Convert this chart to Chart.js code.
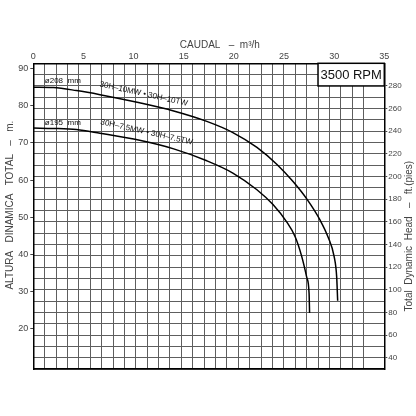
<!DOCTYPE html>
<html>
<head>
<meta charset="utf-8">
<script src="https://cdn.jsdelivr.net/npm/chart.js@4.4.1/dist/chart.umd.min.js"></script>
<style>
  html, body { margin: 0; padding: 0; background: #fff; }
  canvas { display: block; }
</style>
</head>
<body>
<canvas id="chart" width="416" height="416"></canvas>
<script>
const M3H_TO_GPM = 4.402868;
const M_TO_FT = 3.28084;
const FONT = '"Liberation Sans", Arial, sans-serif';

// tick labels
const flowTicks = [0, 5, 10, 15, 20, 25, 30, 35];
const headTicksM = [20, 30, 40, 50, 60, 70, 80, 90];
const headTicksFt = [40, 60, 80, 100, 120, 140, 160, 180, 200, 220, 240, 260, 280];

// impeller 208 mm (30H-10MW / 30H-10TW)
const flow208 = [0, 2, 4.3, 6.65, 10.6, 14.0, 17.3, 19.9, 22.3, 24.3, 25.9, 27.3, 28.6, 29.4, 30.0, 30.25, 30.35];
const head208 = [85.0, 84.9, 84.1, 83.0, 80.8, 78.6, 75.8, 72.8, 68.8, 64.2, 59.6, 54.8, 49.2, 44.6, 39.4, 34.0, 27.5];

// impeller 195 mm (30H-7.5MW / 30H-7.5TW)
const flow195 = [0, 2, 4.3, 6.65, 10.6, 14.0, 17.3, 19.9, 22.3, 23.9, 25.3, 26.1, 26.75, 27.25, 27.5, 27.55];
const head195 = [74.0, 73.9, 73.6, 72.6, 70.7, 68.4, 65.2, 61.9, 57.4, 53.4, 48.6, 44.8, 39.6, 34.0, 29.5, 24.2];

// curve captions, anchored in flow (m3/h) / head (m)
const captions = [
  { text: 'ø208  mm', q: 1.15, h: 86.6, angle: 0, align: 'left' },
  { text: '30H–10MW • 30H–10TW', q: 11.0, h: 83.2, angle: 12.5, align: 'center' },
  { text: 'ø195  mm', q: 1.15, h: 75.4, angle: 0, align: 'left' },
  { text: '30H–7.5MW • 30H–7.5TW', q: 11.3, h: 72.9, angle: 12.5, align: 'center' }
];

const rpmLabel = '3500 RPM';

const toPoints = (xs, ys) => xs.map((x, i) => ({ x: x, y: ys[i] }));

const decorPlugin = {
  id: 'decor',
  afterDatasetsDraw(chart) {
    const ctx = chart.ctx;
    const sx = chart.scales.x, sy = chart.scales.y;
    ctx.save();
    ctx.fillStyle = '#111';
    ctx.font = '8px ' + FONT;
    ctx.textBaseline = 'middle';
    captions.forEach(c => {
      ctx.save();
      ctx.translate(sx.getPixelForValue(c.q), sy.getPixelForValue(c.h));
      ctx.rotate(c.angle * Math.PI / 180);
      ctx.textAlign = c.align;
      ctx.fillText(c.text, 0, 0);
      ctx.restore();
    });
    ctx.restore();
  },
  afterDraw(chart) {
    const ctx = chart.ctx;
    const area = chart.chartArea;
    const gx = chart.scales.x2, gy = chart.scales.y2;

    // rpm box
    const bx = gx.getPixelForValue(125), by = gy.getPixelForValue(280);
    ctx.save();
    ctx.fillStyle = '#fff';
    ctx.fillRect(bx, area.top, area.right - bx, by - area.top);
    ctx.strokeStyle = '#000';
    ctx.lineWidth = 1.5;
    ctx.strokeRect(bx, area.top, area.right - bx, by - area.top);
    ctx.fillStyle = '#111';
    ctx.font = '13px ' + FONT;
    ctx.textAlign = 'center';
    ctx.textBaseline = 'middle';
    ctx.fillText(rpmLabel, (bx + area.right) / 2, (area.top + by) / 2 + 1);
    ctx.restore();

    // axis titles
    ctx.save();
    ctx.fillStyle = '#444';
    ctx.font = '10px ' + FONT;
    ctx.textAlign = 'center';
    ctx.textBaseline = 'middle';
    const cx = (area.left + area.right) / 2;
    const cy = (area.top + area.bottom) / 2;
    ctx.fillText('CAUDAL   –  m³/h', cx + 11, 45);

    ctx.save();
    ctx.translate(10, cy - 11);
    ctx.rotate(-Math.PI / 2);
    ctx.fillText('ALTURA   DINAMICA   TOTAL   –   m.', 0, 0);
    ctx.restore();

    ctx.save();
    ctx.translate(409, cy + 20);
    ctx.rotate(-Math.PI / 2);
    ctx.fillText('Total  Dynamic  Head   –   ft.(pies)', 0, 0);
    ctx.restore();
    ctx.restore();
  }
};

const tickFont = { size: 9, family: FONT };
const gridColor = '#5e5e5e';
const frame = { color: '#000', width: 1.5 };

new Chart(document.getElementById('chart'), {
  type: 'line',
  data: {
    datasets: [
      {
        label: '208 mm',
        data: toPoints(flow208, head208),
        xAxisID: 'x', yAxisID: 'y',
        borderColor: '#000', borderWidth: 1.5,
        pointRadius: 0, cubicInterpolationMode: 'monotone'
      },
      {
        label: '195 mm',
        data: toPoints(flow195, head195),
        xAxisID: 'x', yAxisID: 'y',
        borderColor: '#000', borderWidth: 1.5,
        pointRadius: 0, cubicInterpolationMode: 'monotone'
      }
    ]
  },
  options: {
    responsive: false,
    animation: false,
    layout: { padding: 0 },
    plugins: { legend: { display: false }, tooltip: { enabled: false } },
    scales: {
      x: {
        type: 'linear', position: 'top', min: 0, max: 35,
        afterBuildTicks: s => { s.ticks = flowTicks.map(v => ({ value: v })); },
        grid: { drawOnChartArea: false, drawTicks: false },
        border: frame,
        ticks: { padding: 1, color: '#444', font: tickFont, maxRotation: 0 },
        afterFit: s => { s.height = 63.3; }
      },
      x2: {
        type: 'linear', position: 'bottom', min: 0, max: 35 * M3H_TO_GPM,
        ticks: { display: false, stepSize: 5, autoSkip: false },
        grid: { color: gridColor, lineWidth: 1, drawTicks: false },
        border: frame,
        afterFit: s => { s.height = 47; }
      },
      y: {
        type: 'linear', position: 'left', min: 30 / M_TO_FT, max: 300 / M_TO_FT,
        afterBuildTicks: s => { s.ticks = headTicksM.map(v => ({ value: v })); },
        grid: { drawOnChartArea: false, tickLength: 3, tickColor: '#444' },
        border: frame,
        ticks: { padding: 2, color: '#444', font: tickFont },
        afterFit: s => { s.width = 33.3; }
      },
      y2: {
        type: 'linear', position: 'right', min: 30, max: 300,
        ticks: {
          stepSize: 10, autoSkip: false, padding: 1, color: '#444',
          font: { size: 8, family: FONT },
          callback: v => headTicksFt.includes(v) ? v : ''
        },
        grid: {
          color: gridColor, lineWidth: 1, tickLength: 3,
          tickColor: c => headTicksFt.includes(c.tick.value) ? '#444' : 'rgba(0,0,0,0)'
        },
        border: frame,
        afterFit: s => { s.width = 31.7; }
      }
    }
  },
  plugins: [decorPlugin]
});
</script>
</body>
</html>
